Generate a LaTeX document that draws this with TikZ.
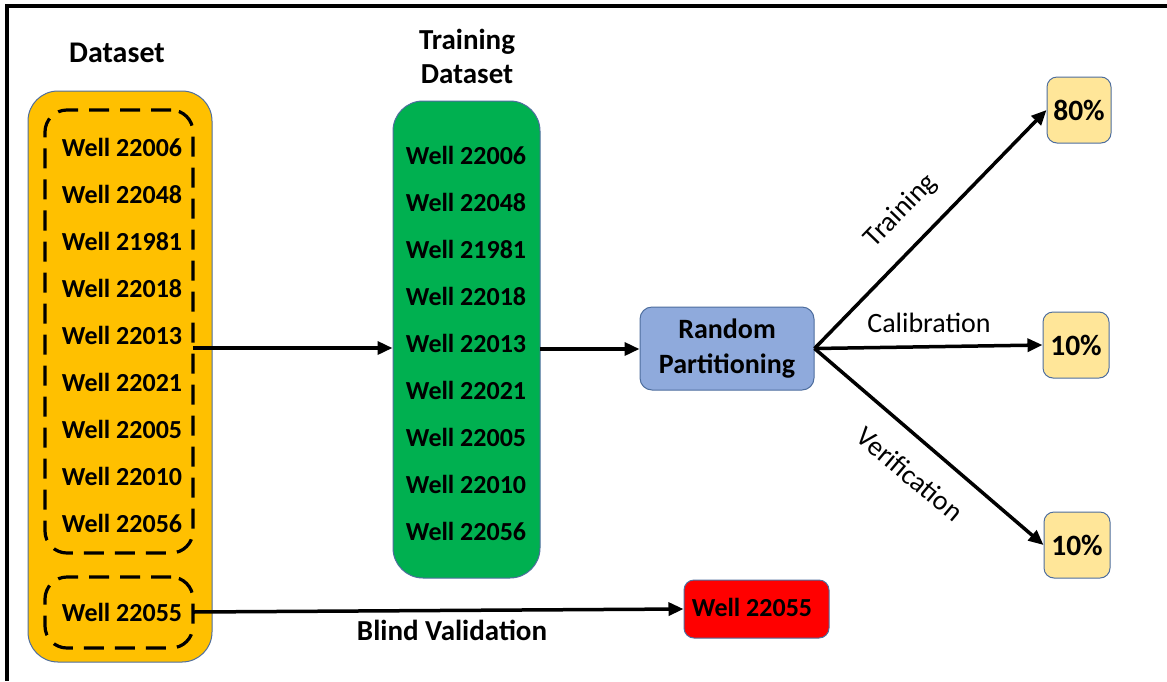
\documentclass[tikz,border=0pt]{standalone}
\usepackage{fontspec}
\setmainfont{Carlito}
\usetikzlibrary{arrows.meta}
\definecolor{orangeF}{HTML}{FFC000}
\definecolor{greenF}{HTML}{00B050}
\definecolor{blueF}{HTML}{8FAADC}
\definecolor{yellowF}{HTML}{FFE699}
\definecolor{redF}{HTML}{FF0000}
\definecolor{edgeC}{HTML}{4E6E9E}
\tikzset{
  boxshape/.style={draw=edgeC, line width=1pt, rounded corners=#1, inner sep=0pt},
  dashbox/.style={draw=black, line width=3.2pt, dash pattern=on 20pt off 11pt, rounded corners=22pt, inner sep=0pt},
  welltxt/.style={font=\fontsize{26}{30}\selectfont\bfseries, inner sep=0pt},
  headtxt/.style={font=\fontsize{30}{34}\selectfont\bfseries, inner sep=0pt, align=center},
  pcttxt/.style={font=\fontsize{29.5}{34}\selectfont\bfseries, inner sep=0pt},
  lbltxt/.style={font=\fontsize{28}{32}\selectfont, inner sep=0pt},
  arr/.style={line width=3.5pt, -{Triangle[length=15pt,width=13pt]}},
}
\begin{document}
\begin{tikzpicture}[x=1pt,y=-1pt]
\useasboundingbox (0,0) rectangle (1167,681);
\fill[white] (0,0) rectangle (1167,681);
% frame
\draw[line width=4pt] (5,6) -- (1167,6);
\draw[line width=4pt] (7,4) -- (7,681);

% headers
\node[headtxt] (hds) at (117,53) {Dataset};
\node[headtxt, font=\fontsize{29}{34}\selectfont\bfseries] (htr) at (467,56) {Training\\Dataset};

% orange dataset box
\node[boxshape=30pt, fill=orangeF, minimum width=184pt, minimum height=571pt] (ds) at (120,376.5) {};
\node[dashbox, minimum width=148pt, minimum height=443pt] (d1) at (119,331.5) {};
\node[dashbox, minimum width=148pt, minimum height=71pt] (d2) at (119,612.5) {};

\foreach \w [count=\i] in {22006,22048,21981,22018,22013,22021,22005,22010,22056}{
  \node[welltxt] (o\i) at (122,{147+47*(\i-1)}) {Well \w};
}
\node[welltxt] (o10) at (122,612) {Well 22055};

% green training box
\node[boxshape=30pt, fill=greenF, minimum width=147pt, minimum height=477pt] (g) at (466.5,339.5) {};
\foreach \w [count=\i] in {22006,22048,21981,22018,22013,22021,22005,22010,22056}{
  \node[welltxt] (t\i) at (466,{155+47*(\i-1)}) {Well \w};
}

% random partitioning
\node[boxshape=12pt, fill=blueF, minimum width=174pt, minimum height=83pt,
      font=\fontsize{28}{35}\selectfont\bfseries, align=center] (rp) at (727,348.5) {Random\\Partitioning};

% percent boxes
\node[boxshape=10pt, fill=yellowF, minimum width=64pt, minimum height=66pt, pcttxt] (p80) at (1079,110) {80\%};
\node[boxshape=10pt, fill=yellowF, minimum width=66pt, minimum height=66pt, pcttxt] (p10a) at (1076,345) {10\%};
\node[boxshape=10pt, fill=yellowF, minimum width=66pt, minimum height=66pt, pcttxt] (p10b) at (1077,545) {10\%};

% red box
\node[boxshape=10pt, fill=redF, minimum width=145pt, minimum height=58pt] (rb) at (756.5,609) {};
\node[welltxt] (rbt) at (752,607) {Well 22055};

% connectors
\coordinate (a1s) at (193,348);
\draw[arr] (a1s) -- (a1s -| g.west);
\coordinate (a2s) at (540,349);
\draw[arr] (a2s) -- (a2s -| rp.west);
\coordinate (a3s) at (193,612);
\draw[arr] (a3s) -- (rb.west);
\node[headtxt, font=\fontsize{29}{30}\selectfont\bfseries] (bv) at (452,630) {Blind Validation};

\draw[arr] (rp.east) -- (p80.west);
\draw[arr] (rp.east) -- (p10a.west);
\draw[arr] (rp.east) -- (p10b.west);

\node[lbltxt, rotate=46] (ltr) at (901,211) {Training};
\node[lbltxt] (lca) at (929,323) {Calibration};
\node[lbltxt, rotate=-40] (lve) at (910,474) {Verification};
\end{tikzpicture}
\end{document}
